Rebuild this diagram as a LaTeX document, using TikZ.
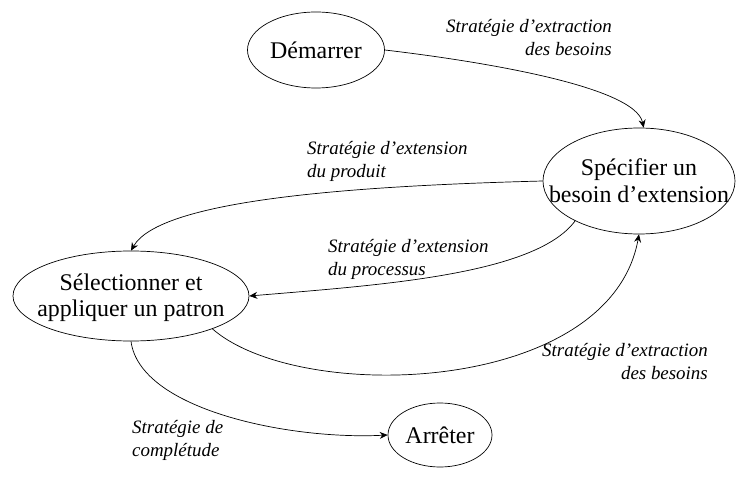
\documentclass[tikz,border=0pt]{standalone}
\usepackage{fontspec}
\setmainfont{Liberation Serif}
\usetikzlibrary{shapes.geometric,arrows.meta}
\begin{document}
\begin{tikzpicture}[x=1bp,y=-1bp,
  state/.style={draw=black,line width=0.7pt,ellipse,inner sep=0pt},
  statetext/.style={align=center,inner sep=0pt,font=\fontsize{24}{26}\selectfont},
  strat/.style={inner sep=0pt,font=\fontsize{19}{23}\selectfont\itshape},
  flow/.style={draw=black,line width=0.7pt,-{Stealth[length=8pt,width=7pt]}}]
\useasboundingbox (0,0) rectangle (736,479);

% intentions (map states)
\node[state,minimum width=137bp,minimum height=76bp] (dem) at (316,50) {};
\node[statetext] (demt) at (dem) {Démarrer};
\node[state,minimum width=192bp,minimum height=106bp] (spec) at (639,181) {};
\node[statetext,font=\fontsize{24}{27}\selectfont] (spect) at (spec) {Spécifier un\\besoin d’extension};
\node[state,minimum width=236bp,minimum height=90bp] (sel) at (131,296) {};
\node[statetext] (selt) at ([yshift=-2bp]sel.center) {Sélectionner et\\appliquer un patron};
\node[state,minimum width=104bp,minimum height=64bp] (arr) at (440,435) {};
\node[statetext] (arrt) at (arr) {Arrêter};

% strategies
\draw[flow] (dem.east) .. controls (470,60) and (635,85) .. (spec.85);
\draw[flow] (spec.west) .. controls (350,186) and (160,200) .. (sel.north);
\draw[flow] (spec.212) .. controls (535,275) and (380,285) .. (sel.east);
\draw[flow] (sel.-22) .. controls (300,405) and (610,395) .. (spec.south);
\draw[flow] (sel.south) .. controls (140,410) and (290,440) .. (arr.west);

% strategy labels
\node[strat,align=right,anchor=north east] (s1) at (612,19) {Stratégie d’extraction\\des besoins};
\node[strat,align=left,anchor=north west] (s2) at (307,141) {Stratégie d’extension\\du produit};
\node[strat,align=left,anchor=north west] (s3) at (328,239) {Stratégie d’extension\\du processus};
\node[strat,align=right,anchor=north east] (s4) at (708,343) {Stratégie d’extraction\\des besoins};
\node[strat,align=left,anchor=north west] (s5) at (132,420) {Stratégie de\\complétude};
\end{tikzpicture}
\end{document}
